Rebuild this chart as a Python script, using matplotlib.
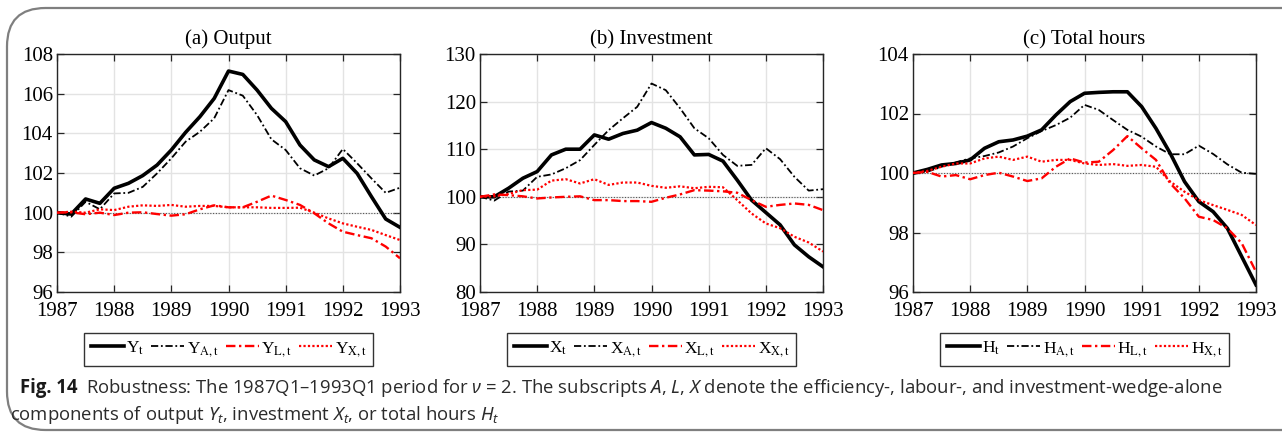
import matplotlib
matplotlib.use("Agg")
import matplotlib.pyplot as plt
from matplotlib.patches import FancyBboxPatch
from matplotlib.font_manager import FontProperties
import numpy as np

plt.rcParams['mathtext.fontset'] = 'custom'
plt.rcParams['mathtext.rm'] = 'Noto Sans'
plt.rcParams['mathtext.it'] = 'Noto Sans:italic'
plt.rcParams['mathtext.bf'] = 'Noto Sans:bold'

# quarterly, 1987Q1 .. 1993Q1
years = 1987 + np.arange(25) / 4.0

# (a) Output
y_t = [100, 99.93, 100.69, 100.47, 101.23, 101.48, 101.87, 102.4, 103.16, 104.05,
       104.84, 105.76, 107.14, 106.97, 106.18, 105.26, 104.59, 103.41, 102.66,
       102.32, 102.74, 101.98, 100.81, 99.68, 99.26]
y_a = [100, 99.8, 100.55, 100.17, 100.97, 101.0, 101.3, 101.98, 102.74, 103.58,
       104.08, 104.76, 106.18, 105.9, 104.92, 103.7, 103.16, 102.24, 101.87,
       102.24, 103.21, 102.49, 101.73, 101.0, 101.26]
y_l = [100, 100.02, 99.92, 100.0, 99.88, 100.0, 100.02, 99.93, 99.85, 99.92,
       100.17, 100.37, 100.27, 100.27, 100.55, 100.86, 100.64, 100.39, 99.97,
       99.46, 99.04, 98.87, 98.71, 98.29, 97.7]
y_x = [100, 100.05, 100.0, 100.17, 100.13, 100.3, 100.37, 100.34, 100.39, 100.3,
       100.34, 100.34, 100.27, 100.27, 100.27, 100.24, 100.24, 100.25, 100.0,
       99.71, 99.46, 99.29, 99.13, 98.87, 98.62]

# (b) Investment
x_t = [100, 100, 101.8, 103.9, 105.3, 108.8, 110, 110, 113, 112.1, 113.3, 114,
       115.6, 114.4, 112.6, 108.8, 108.9, 107.5, 103.5, 99.3, 96.7, 94.1, 89.9,
       87.4, 85.3]
x_a = [100, 99.2, 101.1, 101.3, 104.2, 104.7, 106, 107.7, 110.9, 114, 116.5,
       118.9, 123.8, 122.4, 118.6, 114.4, 112.3, 108.8, 106.5, 106.7, 110.2,
       107.9, 104.2, 101.3, 101.6]
x_l = [100, 100.5, 100.35, 100.1, 99.65, 99.86, 100, 100.1, 99.3, 99.3, 99.1,
       99.1, 98.95, 99.8, 100.5, 101.4, 101.3, 101.15, 100.85, 99.3, 97.9, 98.3,
       98.6, 98.3, 97.2]
x_x = [100, 100.1, 100.6, 101.4, 101.5, 103.4, 103.7, 102.8, 103.7, 102.5, 103,
       103, 102.3, 101.9, 102.2, 101.8, 102.1, 102, 99.3, 96.5, 94.4, 93.4, 91.6,
       90.4, 88.5]

# (c) Total hours
h_t = [100, 100.12, 100.27, 100.32, 100.44, 100.83, 101.05, 101.11, 101.24,
       101.45, 101.95, 102.4, 102.68, 102.71, 102.73, 102.73, 102.23, 101.5,
       100.66, 99.71, 99.04, 98.7, 98.14, 97.19, 96.24]
h_a = [99.97, 100.04, 100.21, 100.36, 100.49, 100.57, 100.69, 100.89, 101.17,
       101.41, 101.61, 101.86, 102.29, 102.12, 101.78, 101.45, 101.22, 100.89,
       100.63, 100.63, 100.92, 100.64, 100.29, 100.01, 99.97]
h_l = [100, 100.04, 99.88, 99.93, 99.79, 99.93, 100.01, 99.88, 99.73, 99.82,
       100.21, 100.49, 100.35, 100.38, 100.77, 101.24, 100.83, 100.44, 99.65,
       99.15, 98.53, 98.42, 98.14, 97.64, 96.68]
h_x = [100, 100.07, 100.21, 100.32, 100.32, 100.49, 100.55, 100.44, 100.55,
       100.38, 100.44, 100.44, 100.32, 100.27, 100.3, 100.24, 100.27, 100.21,
       99.71, 99.37, 99.09, 98.92, 98.76, 98.59, 98.25]

panels = [
    ("(a) Output", "Y", [y_t, y_a, y_l, y_x], (96, 108), [96, 98, 100, 102, 104, 106, 108]),
    ("(b) Investment", "X", [x_t, x_a, x_l, x_x], (80, 130), [80, 90, 100, 110, 120, 130]),
    ("(c) Total hours", "H", [h_t, h_a, h_l, h_x], (96, 104), [96, 98, 100, 102, 104]),
]
xticks = [1987, 1988, 1989, 1990, 1991, 1992, 1993]
subs = ["t", "A,t", "L,t", "X,t"]

styles = [
    dict(color="black", lw=2.6, ls="-"),
    dict(color="black", lw=1.3, ls=(0, (4, 1.5, 1, 1.5))),
    dict(color="red", lw=1.7, ls=(0, (4, 1.5, 1, 1.5))),
    dict(color="red", lw=1.6, ls=(0, (1, 1))),
]

W, H = 1282, 433
fig = plt.figure(figsize=(W / 100, H / 100), dpi=100)

# rounded frame around the figure
frame = FancyBboxPatch((7 / W, 3 / H), 1.2, (H - 11) / H,
                       boxstyle="round,pad=0,rounding_size=0.03",
                       transform=fig.transFigure, fill=False,
                       edgecolor="#7f7f7f", lw=1.6, mutation_aspect=W / H)
fig.patches.append(frame)

serif = "Liberation Serif"
lefts = [57, 480, 913]
for (title, letter, series, ylim, yticks), left in zip(panels, lefts):
    ax = fig.add_axes([left / W, 1 - 292 / H, 343 / W, 238 / H])
    ax.grid(True, color="#e3e3e3", lw=1.0)
    ax.set_axisbelow(True)
    ax.axhline(100, color="#555555", lw=0.8, ls=(0, (1, 1.5)), zorder=1)
    labels = [r"%s$_{\mathrm{%s}}$" % (letter, s) for s in subs]
    for vals, st, lab in zip(series, styles, labels):
        ax.plot(years, vals, label=lab, zorder=3, **st)
    ax.set_xlim(1987, 1993)
    ax.set_ylim(*ylim)
    ax.set_xticks(xticks)
    ax.set_yticks(yticks)
    ax.tick_params(direction="in", top=True, right=True, length=5, width=0.9,
                   color="#262626", labelsize=15, pad=3)
    ax.tick_params(axis="x", pad=7)
    for lab in ax.get_xticklabels() + ax.get_yticklabels():
        lab.set_fontfamily(serif)
    for sp in ax.spines.values():
        sp.set_color("#262626")
        sp.set_linewidth(1.0)
    ax.set_title(title, fontfamily=serif, fontsize=15, pad=7)
    leg = ax.legend(loc="center", bbox_to_anchor=(0.5, -0.24), ncol=4,
                    prop=FontProperties(family=serif, size=12.5, math_fontfamily="stix"),
                    frameon=True, fancybox=False, edgecolor="black",
                    handlelength=1.9, handletextpad=0.15, columnspacing=0.4,
                    borderpad=0.4, borderaxespad=0)
    leg.get_frame().set_linewidth(1.0)

# caption
cap_font = ["Open Sans", "Noto Sans", "DejaVu Sans"]
cap_color = "#2b2b2b"
bold = "Fig. 14"
rest1 = (r"Robustness: The 1987Q1–1993Q1 period for $\nu$ = 2. "
         r"The subscripts $A$, $L$, $X$ denote the efficiency-, labour-, and investment-wedge-alone")
line2 = r"components of output $Y_t$, investment $X_t$, or total hours $H_t$"

size = 12.0
t_bold = fig.text(20 / W, 1 - 388 / H, bold, family=cap_font, fontweight="bold",
                  fontsize=size, color="#1a1a1a", va="center", ha="left")
t_rest = fig.text(0, 1 - 388 / H, rest1, family=cap_font, fontsize=size,
                  color=cap_color, va="center", ha="left")
t_two = fig.text(10 / W, 1 - 415 / H, line2, family=cap_font, fontsize=size,
                 color=cap_color, va="center", ha="left")

renderer = fig.canvas.get_renderer()
for _ in range(2):
    bb = t_bold.get_window_extent(renderer)
    t_rest.set_x((bb.x1 + 9) / W)
    rb = t_rest.get_window_extent(renderer)
    width = rb.x1 - 20
    size = size * 1208 / width
    for t in (t_bold, t_rest, t_two):
        t.set_fontsize(size)
bb = t_bold.get_window_extent(renderer)
t_rest.set_x((bb.x1 + 9) / W)

fig.savefig("out.png", dpi=100)
